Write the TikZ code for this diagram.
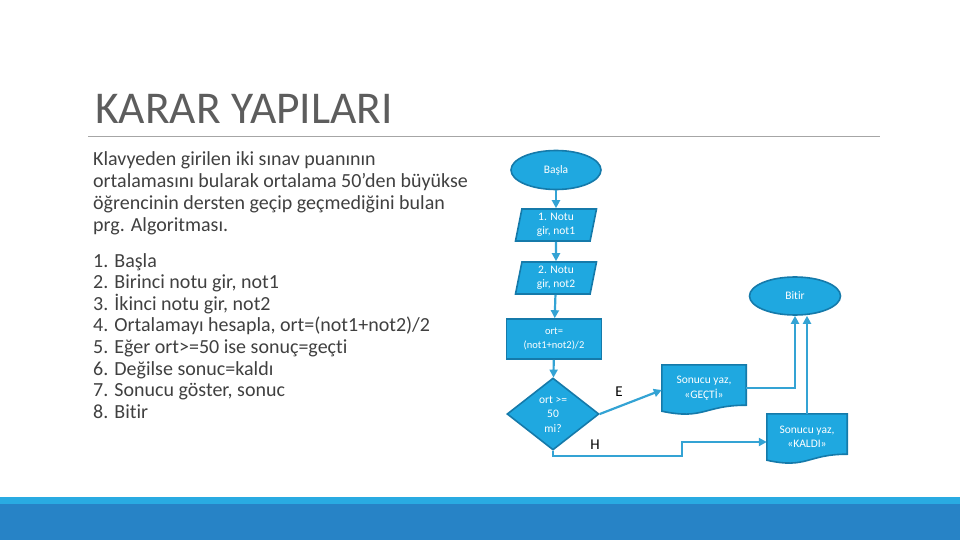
\documentclass[tikz,border=0pt]{standalone}
\usepackage{fontspec}
\setmainfont{Carlito}[Ligatures={NoCommon,NoContextual}]
\usepackage{xcolor}
\definecolor{textGray}{RGB}{64,64,64}
\definecolor{ruleGray}{RGB}{166,166,166}
\definecolor{flowFill}{RGB}{31,168,224}
\definecolor{flowEdge}{RGB}{21,122,170}
\definecolor{flowLine}{RGB}{52,163,212}
\definecolor{barLight}{RGB}{41,171,226}
\definecolor{barDark}{RGB}{39,131,198}
\usepackage{tikz}
\usetikzlibrary{arrows.meta,shapes.geometric,positioning,calc,backgrounds}
\tikzstyle{flowbase}=[fill=flowFill, draw=flowEdge, line width=1.6pt, text=white, font=\fontsize{11.5}{14.5}\selectfont, align=center, inner sep=0pt]
\tikzstyle{terminal}=[flowbase, ellipse, minimum width=90pt, minimum height=39pt]
\tikzstyle{inputbox}=[flowbase, trapezium, trapezium left angle=75, trapezium right angle=105, trapezium stretches body, minimum width=81pt, minimum height=32pt]
\tikzstyle{procbox}=[flowbase, rectangle, minimum width=95pt, minimum height=40pt, font=\fontsize{10.5}{14}\selectfont]
\tikzstyle{decision}=[flowbase, diamond, minimum width=92pt, minimum height=72pt]
\tikzstyle{docbox}=[text=white, font=\fontsize{11.5}{14.5}\selectfont, align=center, inner sep=0pt, minimum height=46pt]
\tikzstyle{docfill}=[fill=flowFill, draw=flowEdge, line width=1.6pt]
\tikzstyle{flowarrow}=[-{Triangle[length=8pt,width=8pt]}, draw=flowLine, line width=2.2pt]
\tikzstyle{branchlbl}=[font=\fontsize{15}{18}\selectfont, text=black, inner sep=0pt]
\tikzstyle{bodytext}=[anchor=base west, inner sep=0pt, text=textGray, font=\fontsize{20}{24}\selectfont]

% belge sekli: dalgali alt kenar
\newcommand{\docshape}[1]{%
  \filldraw[docfill] (#1.north west) -- (#1.north east) -- ($(#1.south east)+(0,-6)$)
    .. controls ($(#1.south)+(0,-6)$) and ($(#1.south)+(0,9)$) .. (#1.south west) -- cycle;}

\begin{document}
\begin{tikzpicture}[x=1pt, y=-1pt]
    \useasboundingbox (0,0) rectangle (960,540);

    % Baslik
    \node[anchor=base west, inner sep=0pt, text=textGray!85, font=\fontsize{45.5}{52}\selectfont] (title) at (95,124) {KARAR YAPILARI};
    \draw[ruleGray, line width=1pt] (88,137) -- (880,137);

    % Aciklama ve algoritma
    \foreach \t [count=\i from 0] in {{Klavyeden girilen iki sınav puanının},
        {ortalamasını bularak ortalama 50’den büyükse},
        {öğrencinin dersten geçip geçmediğini bulan},
        {prg. Algoritması.}} {
      \node[bodytext] (desc\i) at (93,{166+21.7*\i}) {\t};
    }
    \foreach \t [count=\i from 0] in {{1. Başla},
        {2. Birinci notu gir, not1},
        {3. İkinci notu gir, not2},
        {4. Ortalamayı hesapla, ort=(not1+not2)/2},
        {5. Eğer ort>=50 ise sonuç=geçti},
        {6. Değilse sonuc=kaldı},
        {7. Sonucu göster, sonuc},
        {8. Bitir}} {
      \node[bodytext] (step\i) at (93,{267+21.6*\i}) {\t};
    }

    % Akis diyagrami
    \node[terminal] (basla) at (556,170) {Başla};
    \node[inputbox] (not1) at (556,225) {1. Notu\\gir, not1};
    \node[inputbox] (not2) at (556,278) {2. Notu\\gir, not2};
    \node[procbox]  (ort)  at (554,339) {ort=\\(not1+not2)/2};
    \node[decision] (karar) at (553,414) {ort >=\\50\\mi?};
    \node[docbox, minimum width=84pt] (gecti) at (704,388) {Sonucu yaz,\\«GEÇTİ»};
    \node[docbox, minimum width=80pt] (kaldi) at (807,437) {Sonucu yaz,\\«KALDI»};
    \node[terminal, minimum width=91pt, minimum height=38pt] (bitir) at (795,296) {Bitir};
    \begin{scope}[on background layer]
      \docshape{gecti}
      \docshape{kaldi}
    \end{scope}

    \draw[flowarrow] (basla) -- (not1);
    \draw[flowarrow] (not1) -- (not2);
    \draw[flowarrow] (not2) -- (ort);
    \draw[flowarrow] (ort) -- (karar);
    \draw[flowarrow] (karar.east) -- ($(gecti.west)+(0,2)$);
    \node[branchlbl] (lblE) at (619,392) {E};
    \coordinate (hstep) at (682,456);
    \draw[flowarrow] (karar.south) |- (hstep) |- ($(kaldi.west)+(0,5)$);
    \node[branchlbl] (lblH) at (595,445) {H};
    \draw[flowarrow] (gecti.east) -| (bitir.south);
    \draw[flowarrow] (kaldi.north) -- (kaldi.north |- bitir.south);

    % Alt serit
    \fill[barLight] (0,497) rectangle (960,504);
    \fill[barDark] (0,504) rectangle (960,540);
\end{tikzpicture}
\end{document}
